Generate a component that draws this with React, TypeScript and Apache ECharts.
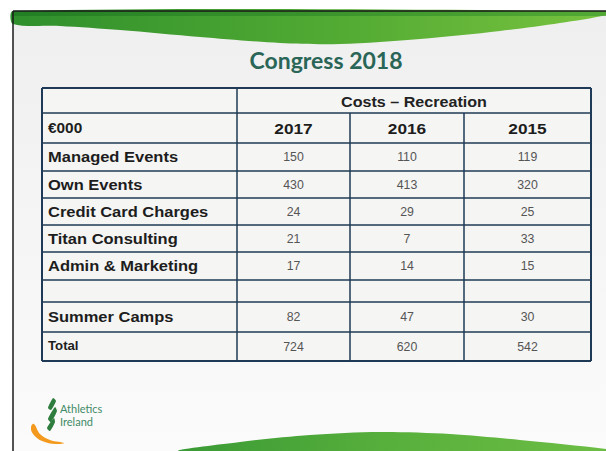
import React, { useEffect, useRef } from "react";
import * as echarts from "echarts";

// ---- data ----
const title = "Congress 2018";
const groupHeader = "Costs – Recreation";
const unitLabel = "€000";
const years = ["2017", "2016", "2015"];
const categories = [
  "Managed Events",
  "Own Events",
  "Credit Card Charges",
  "Titan Consulting",
  "Admin & Marketing",
  "",
  "Summer Camps",
  "Total",
];
const values2017 = [150, 430, 24, 21, 17, null, 82, 724];
const values2016 = [110, 413, 29, 7, 14, null, 47, 620];
const values2015 = [119, 320, 25, 33, 15, null, 30, 542];

// ---- layout ----
const colEdges = [42, 237, 350, 464, 591];
const rowEdges = [88, 113, 143, 171, 198, 225, 252, 280, 302, 332, 361];
const lineColor = "#1f3a56";
const font = "'Liberation Sans', Arial, sans-serif";
const boldStretch = 1.1;

function buildTable(): any[] {
  const els: any[] = [];
  const left = colEdges[0];
  const right = colEdges[colEdges.length - 1];
  const top = rowEdges[0];
  const bottom = rowEdges[rowEdges.length - 1];
  els.push({
    type: "rect",
    shape: { x: left, y: top, width: right - left, height: bottom - top },
    style: { fill: "#f5f5f4" },
  });
  rowEdges.forEach((y, i) => {
    const w = i === 0 || i === rowEdges.length - 1 ? 2 : 1.5;
    els.push({
      type: "line",
      shape: { x1: left, y1: y, x2: right, y2: y },
      style: { stroke: lineColor, lineWidth: w },
    });
  });
  colEdges.forEach((x, i) => {
    const y1 = i === 2 || i === 3 ? rowEdges[1] : top;
    const w = i === 0 || i === colEdges.length - 1 ? 2 : 1.5;
    els.push({
      type: "line",
      shape: { x1: x, y1, x2: x, y2: bottom },
      style: { stroke: lineColor, lineWidth: w },
    });
  });
  const mid = (a: number, b: number) => (a + b) / 2;
  els.push({
    type: "text",
    x: mid(colEdges[1], right),
    y: mid(rowEdges[0], rowEdges[1]) + 1,
    scaleX: 1.15,
    style: {
      text: groupHeader,
      font: `bold 14px ${font}`,
      fill: "#222222",
      align: "center",
      verticalAlign: "middle",
    },
  });
  els.push({
    type: "text",
    x: left + 6,
    y: mid(rowEdges[1], rowEdges[2]),
    scaleX: boldStretch,
    style: { text: unitLabel, font: `bold 14px ${font}`, fill: "#1d1d1d", verticalAlign: "middle" },
  });
  years.forEach((yr, j) => {
    els.push({
      type: "text",
      x: mid(colEdges[j + 1], colEdges[j + 2]),
      y: mid(rowEdges[1], rowEdges[2]),
      scaleX: 1.15,
      style: { text: yr, font: `bold 15px ${font}`, fill: "#1d1d1d", align: "center", verticalAlign: "middle" },
    });
  });
  const cols = [values2017, values2016, values2015];
  categories.forEach((cat, i) => {
    const y = mid(rowEdges[i + 2], rowEdges[i + 3]);
    const isTotal = cat === "Total";
    els.push({
      type: "text",
      x: left + 6,
      y,
      scaleX: boldStretch,
      style: {
        text: cat,
        font: `bold ${isTotal ? 12 : 15}px ${font}`,
        fill: "#1d1d1d",
        verticalAlign: "middle",
      },
    });
    cols.forEach((vals, j) => {
      const v = vals[i];
      if (v === null || v === undefined) return;
      els.push({
        type: "text",
        x: mid(colEdges[j + 1], colEdges[j + 2]),
        y,
        scaleX: 0.95,
        style: {
          text: String(v),
          font: `13px ${font}`,
          fill: "#555555",
          align: "center",
          verticalAlign: "middle",
        },
      });
    });
  });
  return els;
}

function buildSlide(): any[] {
  const els: any[] = [];
  els.push({
    type: "rect",
    shape: { x: 13, y: 11, width: 593, height: 440 },
    style: {
      fill: {
        type: "linear", x: 0, y: 0, x2: 0, y2: 1,
        colorStops: [
          { offset: 0, color: "#efefef" },
          { offset: 1, color: "#fbfbfb" },
        ],
      },
    },
  });
  els.push({
    type: "polygon",
    shape: {
      points: [
        [13, 11], [606, 11], [606, 15], [560, 23], [500, 31], [420, 39], [340, 44],
        [280, 43], [200, 37], [120, 30], [60, 26], [13, 24],
      ],
      smooth: 0.3,
    },
    style: {
      fill: {
        type: "linear", x: 0, y: 0, x2: 1, y2: 0,
        colorStops: [
          { offset: 0, color: "#2f8f2c" },
          { offset: 0.5, color: "#4ea832" },
          { offset: 1, color: "#78c23f" },
        ],
      },
    },
  });
  els.push({
    type: "rect",
    shape: { x: 13, y: 11, width: 593, height: 5 },
    style: {
      fill: {
        type: "linear", x: 0, y: 0, x2: 1, y2: 0,
        colorStops: [
          { offset: 0, color: "#1f7a22" },
          { offset: 1, color: "#4aa332" },
        ],
      },
      opacity: 0.8,
    },
  });
  els.push({
    type: "polygon",
    shape: {
      points: [
        [180, 451], [240, 442], [310, 435], [380, 432], [450, 434], [520, 440], [606, 449], [606, 451],
      ],
      smooth: 0.3,
    },
    style: {
      fill: {
        type: "linear", x: 0, y: 0, x2: 1, y2: 0,
        colorStops: [
          { offset: 0, color: "#3a9a35" },
          { offset: 0.5, color: "#58b03c" },
          { offset: 1, color: "#6cbd44" },
        ],
      },
    },
  });
  els.push({ type: "line", shape: { x1: 13, y1: 11, x2: 606, y2: 11 }, style: { stroke: "#1a1a1a", lineWidth: 1.5 } });
  els.push({ type: "line", shape: { x1: 13, y1: 11, x2: 13, y2: 451 }, style: { stroke: "#1a1a1a", lineWidth: 1.5 } });
  els.push({
    type: "text",
    x: 326,
    y: 60,
    style: {
      text: title,
      font: "bold 23px Lato, 'Open Sans', sans-serif",
      fill: "#2a6657",
      align: "center",
      verticalAlign: "middle",
    },
  });
  els.push({
    type: "polygon",
    shape: {
      points: [[34, 424], [40, 434], [50, 440], [64, 443], [56, 444], [42, 441], [33, 434], [31, 427]],
      smooth: 0.4,
    },
    style: { fill: "#f39a1e" },
  });
  els.push({
    type: "polygon",
    shape: { points: [[53, 398], [56, 401], [51, 410], [48, 408]], smooth: 0.2 },
    style: { fill: "#2f7d3e" },
  });
  els.push({
    type: "polygon",
    shape: { points: [[55, 407], [57, 411], [51, 422], [48, 419]], smooth: 0.2 },
    style: { fill: "#2f7d3e" },
  });
  els.push({
    type: "polygon",
    shape: { points: [[54, 418], [55, 422], [50, 431], [47, 428]], smooth: 0.2 },
    style: { fill: "#2f7d3e" },
  });
  els.push({
    type: "text",
    x: 60, y: 408,
    style: { text: "Athletics", font: "11px Lato, sans-serif", fill: "#3f8a66", verticalAlign: "middle" },
  });
  els.push({
    type: "text",
    x: 60, y: 421,
    style: { text: "Ireland", font: "11px Lato, sans-serif", fill: "#3f8a66", verticalAlign: "middle" },
  });
  return els;
}

export default function App() {
  const ref = useRef<HTMLDivElement>(null);
  useEffect(() => {
    if (!ref.current) return;
    const chart = echarts.init(ref.current, null, { renderer: "svg" });
    chart.setOption({
      animation: false,
      backgroundColor: "#ffffff",
      graphic: [...buildSlide(), ...buildTable()],
    });
    return () => chart.dispose();
  }, []);
  return (
    <div
      ref={ref}
      style={{ position: "fixed", left: 0, top: 0, width: 606, height: 451 }}
    />
  );
}
